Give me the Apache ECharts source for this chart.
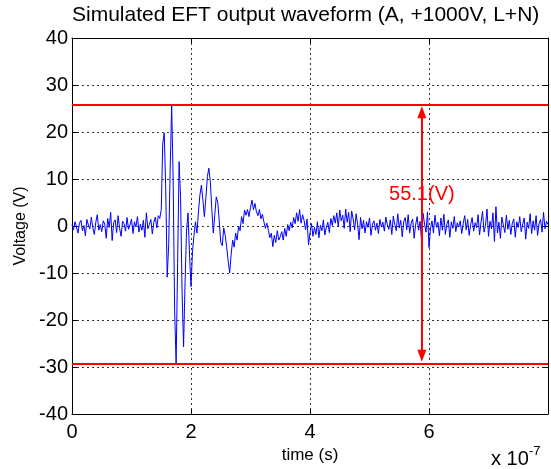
<!DOCTYPE html>
<html><head><meta charset="utf-8">
<script src="https://cdn.jsdelivr.net/npm/echarts@6/dist/echarts.min.js"></script>
<style>html,body{margin:0;padding:0;background:#fff}#c{width:551px;height:469px}</style>
</head><body><div id="c"></div>
<script>
const titleText = 'Simulated EFT output waveform (A, +1000V, L+N)';
const xName = 'time (s)';
const yName = 'Voltage (V)';
const xExponent = '-7';
const sampleStep = 0.025; // units of 1e-7 s
// Voltage samples (V)
const preTrigger = [
 0.3, -0.8, 0.9, -0.2, -1.5, 0.6, 1.2, -1.0, 0.1, -2.1,
 1.4, 0.2, -0.6, 1.9, -0.4, -1.8, 0.8, 2.4, -0.9, 0.3,
 -1.2, 1.1, 0.4, -2.6, 1.6, -0.3, 2.9, -3.1, 0.7, 1.3,
 -1.4, 2.2, -0.5, -2.2, 1.0, 0.5, -1.1, 1.8, -0.7, 0.2,
 1.5, -1.6, 0.9, -0.2, 2.0, -1.3, 0.4, -0.9, 1.2, -2.4,
 2.8, -0.6, 0.3, 1.4, -1.7, 0.8, 1.9, -0.4, 2.2, 1.6
];
const burst = [
 3.5, 17.5, 19.8, 8.0, -10.9, -4.0, 12.0, 25.7, 10.0, -18.0,
 -29.4, -8.0, 13.7, 6.0, -14.0, -25.7, -12.0, -1.0, 2.8, -6.0,
 -12.9, -5.5, -2.0, 0.9, -1.5, 3.0, 6.6, 8.7, 5.5, 2.0,
 6.0, 10.5, 12.3, 9.4, 3.5, -1.5, 2.5, 6.2, 5.0, 1.0,
 -3.5, -4.2, -0.4, -2.0, -4.5, -7.5, -10.0, -6.0, -3.0, -4.5,
 -1.5, -3.0, 0.0, -1.0, 2.0, 0.5, 3.4, 2.3, 3.5, 2.0,
 4.0, 5.5, 3.5, 4.8, 3.0, 2.2, 3.5, 1.5, 2.5, 0.9,
 -0.5, 0.6, -0.9, -2.5, -1.5, -4.4, -2.0, -3.5, -1.0, -3.0, -2.3
];
const tail = [
 -1.2, -3.0, -0.5, -2.2, 0.3, -1.0, 0.8, -0.4, 1.8, 0.5,
 2.8, 1.0, 3.5, 0.6, 2.4, 1.2, -0.8, 1.5, -4.0, -1.5,
 0.5, -2.2, -0.3, -1.8, 0.9, -2.5, 0.2, -1.0, 1.3, -1.9,
 -0.2, 0.8, -1.4, 1.6, 0.1, 2.2, 0.6, 2.8, -0.2, 3.4,
 1.1, 2.3, -0.5, 3.6, 0.8, 2.9, -1.2, 3.2, 1.5, -0.8,
 2.6, 0.4, -2.9, 1.8, -0.6, 1.2, -1.5, 0.9, -0.3, 1.7,
 -2.0, 0.4, 1.1, -0.9, 0.6, -1.6, 1.4, -0.2, 0.8, -1.1,
 1.9, 0.2, -0.7, 1.3, -1.8, 2.1, 0.3, -1.0, 2.6, -0.4,
 1.2, -2.3, 0.9, 1.8, -0.8, 2.4, -1.5, 0.6, 1.5, -2.6,
 0.2, 2.0, -0.9, 1.0, -3.2, 2.7, 0.4, -1.3, 3.0, -4.6,
 -0.6, 1.1, -1.5, 2.3, -0.3, 0.8, -2.1, 1.7, -0.9, 2.5,
 -1.8, 0.4, 1.3, -2.4, 0.9, -0.5, 2.0, -1.2, 0.7, -0.2,
 1.1, -1.6, 0.5, 2.2, -0.8, 1.4, -2.0, 0.3, 1.8, -1.1,
 0.7, -0.4, 2.4, -1.9, 0.9, 3.1, -1.3, 0.2, 3.6, -2.2,
 1.0, -0.6, 2.8, -3.3, 4.1, -1.5, 0.8, -2.6, 1.9, 0.2,
 -1.4, 2.3, -0.7, 1.2, -1.8, 0.6, 1.5, -2.4, 0.9, -0.3,
 2.0, -1.2, 0.4, 1.7, -2.8, 0.8, -0.5, 2.6, -1.6, 1.1,
 -0.9, 2.2, -2.0, 0.5, 1.4, -1.3, 2.9, -0.6, 1.0, 0.3
];
const upperLevel = 25.7;
const lowerLevel = -29.4;
const arrowTime = 5.88;
const arrowTop = 24.2;
const arrowBottom = -27.6;
const spanLabel = '55.1(V)';
const spanLabelY = 6.8;
const xRange = [0, 8];
const yRange = [-40, 40];

const volts = preTrigger.concat(burst, tail);
const wave = volts.map((v, i) => [i * sampleStep, v]);

const FONT = 'Liberation Sans, Arial, Helvetica, sans-serif';
const chart = echarts.init(document.getElementById('c'), null, {renderer: 'canvas'});
const grid = {left: 72, right: 3, top: 38, bottom: 55};
const dotted = {show: true, lineStyle: {type: [2, 3], color: '#333', width: 1}};
const axisBlack = {show: true, onZero: false, lineStyle: {color: '#000', width: 1}};
const tickIn = {show: true, inside: true, length: 5, lineStyle: {color: '#000'}};

chart.setOption({
  animation: false,
  backgroundColor: '#fff',
  title: {text: titleText, left: 67, top: 0,
    textStyle: {fontFamily: FONT, fontSize: 21, fontWeight: 'normal', color: '#000'}},
  grid: grid,
  xAxis: [{
    type: 'value', min: xRange[0], max: xRange[1], interval: 2, position: 'bottom',
    axisLine: axisBlack, axisTick: tickIn,
    axisLabel: {fontFamily: FONT, fontSize: 20, color: '#000', margin: 8,
      formatter: v => (v >= xRange[1] ? '' : String(v))},
    splitLine: dotted,
    name: xName, nameLocation: 'middle', nameGap: 30,
    nameTextStyle: {fontFamily: FONT, fontSize: 17, color: '#000'}
  }, {
    type: 'value', min: xRange[0], max: xRange[1], interval: 2, position: 'top',
    axisLine: axisBlack, axisTick: tickIn, axisLabel: {show: false}, splitLine: {show: false}
  }],
  yAxis: [{
    type: 'value', min: yRange[0], max: yRange[1], interval: 10,
    axisLine: axisBlack, axisTick: tickIn,
    axisLabel: {fontFamily: FONT, fontSize: 20, color: '#000', margin: 4},
    splitLine: dotted,
    name: yName, nameLocation: 'middle', nameGap: 40,
    nameTextStyle: {fontFamily: FONT, fontSize: 16, color: '#000'}
  }, {
    type: 'value', position: 'right', min: yRange[0], max: yRange[1], interval: 10,
    axisLine: axisBlack, axisTick: tickIn, axisLabel: {show: false}, splitLine: {show: false}
  }],
  series: [{
    name: 'waveform', type: 'line', data: wave, showSymbol: false, symbol: 'none',
    lineStyle: {color: '#0000ff', width: 1}, z: 3,
    markLine: {silent: true, symbol: 'none', animation: false,
      lineStyle: {color: '#ff0000', width: 2, type: 'solid'}, label: {show: false},
      data: [{yAxis: upperLevel}, {yAxis: lowerLevel}]}
  }, {
    name: 'span', type: 'line', data: [], z: 4,
    markLine: {silent: true, animation: false, symbol: ['triangle', 'triangle'], symbolSize: [9, 12],
      lineStyle: {color: '#ff0000', width: 2, type: 'solid'}, label: {show: false},
      data: [[{coord: [arrowTime, arrowTop]}, {coord: [arrowTime, arrowBottom]}]]},
    markPoint: {silent: true, animation: false, symbol: 'circle', symbolSize: 1,
      itemStyle: {color: 'rgba(0,0,0,0)'},
      label: {show: true, position: 'inside', formatter: spanLabel, color: '#ff0000',
        fontFamily: FONT, fontSize: 20},
      data: [{coord: [arrowTime, spanLabelY]}]}
  }],
  graphic: [
    {type: 'text', left: 491, top: 449, style: {text: 'x 10', font: '20px ' + FONT, fill: '#000'}},
    {type: 'text', left: 529, top: 445, style: {text: xExponent, font: '13px ' + FONT, fill: '#000'}}
  ]
});
</script></body></html>
